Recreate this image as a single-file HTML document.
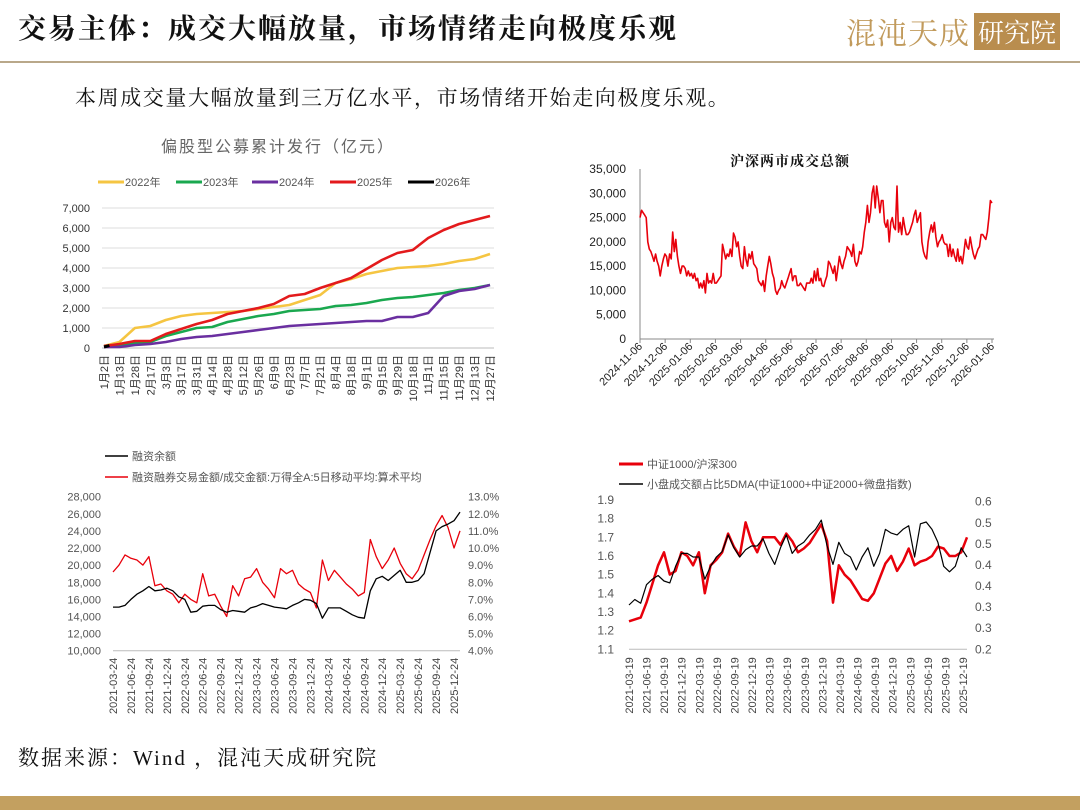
<!DOCTYPE html>
<html><head><meta charset="utf-8">
<style>
body{margin:0;width:1080px;height:810px;overflow:hidden;background:#fff;position:relative;font-family:"Liberation Serif","Noto Serif CJK SC",serif}
.abs{position:absolute}
</style></head>
<body>
<div class="abs" style="left:18px;top:7px;font-size:28px;letter-spacing:2px;font-weight:bold;color:#111;font-family:'Liberation Serif','Noto Serif CJK SC',serif">交易主体：成交大幅放量，市场情绪走向极度乐观</div>
<div class="abs" style="left:846px;top:12px;height:38px;display:flex;align-items:center">
 <span style="font-size:30px;color:#c19a5b;letter-spacing:1px;font-family:'Noto Serif CJK SC',serif">混沌天成</span>
 <span style="margin-left:4px;background:#b98d4e;color:#fff;font-size:26px;padding:0 4px;font-family:'Noto Serif CJK SC',serif">研究院</span>
</div>
<div class="abs" style="left:0;top:61px;width:1080px;height:2px;background:#b9a88a"></div>
<div class="abs" style="left:75px;top:82px;font-size:21px;letter-spacing:1.6px;color:#111">本周成交量大幅放量到三万亿水平，市场情绪开始走向极度乐观。</div>
<div class="abs" style="left:18px;top:742px;font-size:21px;letter-spacing:2px;color:#111">数据来源：Wind ，混沌天成研究院</div>
<div class="abs" style="left:0;top:796px;width:1080px;height:14px;background:#c3a060"></div>

<svg id="svg" class="abs" style="left:0;top:0" width="1080" height="810" font-family="Liberation Sans, Noto Sans CJK SC, sans-serif"></svg>

<script>
// ---------- Chart 1 data ----------
const c1Cats=["1月2日","1月13日","1月28日","2月17日","3月3日","3月17日","3月31日","4月14日","4月28日","5月12日","5月26日","6月9日","6月23日","7月7日","7月21日","8月4日","8月18日","9月1日","9月15日","9月29日","10月18日","11月1日","11月15日","11月29日","12月13日","12月27日"];
const c1Ticks=[0,1000,2000,3000,4000,5000,6000,7000];
const c1Names=["2022年","2023年","2024年","2025年","2026年"];
const c1Colors=["#f5c542","#1aa84f","#6a2fa0","#e31a1c","#000000"];
const s2022=[100,300,1000,1100,1400,1600,1700,1750,1800,1850,1950,2050,2150,2400,2650,3250,3450,3700,3850,4000,4050,4100,4200,4350,4450,4700];
const s2023=[100,100,250,300,600,800,1000,1050,1300,1450,1600,1700,1850,1900,1950,2100,2150,2250,2400,2500,2550,2650,2750,2900,3000,3150];
const s2024=[50,50,150,200,300,450,550,600,700,800,900,1000,1100,1150,1200,1250,1300,1350,1350,1550,1550,1750,2600,2850,2950,3150];
const s2025=[100,200,350,350,700,950,1200,1400,1700,1850,2000,2200,2600,2700,3000,3250,3500,3950,4400,4750,4900,5500,5900,6200,6400,6600];
const s2026=[50,120];
// ---------- Chart 2 data ----------
const c2Ticks=[0,5000,10000,15000,20000,25000,30000,35000];
const c2Dates=["2024-11-06","2024-12-06","2025-01-06","2025-02-06","2025-03-06","2025-04-06","2025-05-06","2025-06-06","2025-07-06","2025-08-06","2025-09-06","2025-10-06","2025-11-06","2025-12-06","2026-01-06"];
const c2Vals=[25,26.5,26,25.5,25,20,18.5,18,17,16,17.5,16,15,13,15,16.5,17.5,17,15,17.5,16.5,22,18,20.5,17,15,13.5,15,15,14.5,13,14,13,13.5,12.5,13.5,12,12.5,10.5,11.5,10.5,12,9.5,13.5,11.5,12,11.5,13.5,11.5,11.5,12,12.5,13,19.5,18,16.5,17.5,17,18.5,17,21.8,21,19,20,17,15,14.5,19,16.5,15,17.5,16.5,18,15.5,15,14.5,12,11.5,11,12,9.8,13,15,17,15.5,13.5,12.5,10,9.2,10,10.5,12,11,10.5,11.5,12.5,13.5,14.5,12,13,13,11,11,11.5,11,10.5,10,11.5,11.5,11.5,12.5,11.5,14,12,14.5,12,12.5,11,10.8,12,13,16,15.5,14.5,13.5,15,12,14.5,17,15.5,14.5,16,17,19,18.5,18,17,19.5,16,15,16,18,17.5,19,22,24,27.5,24,26,30,31.5,27,31.5,29,26,28.5,28.5,24,23,24.5,20,24,25,23,22.5,31.5,22,24,21.5,25,23,21.5,21.5,22,23,24,25.5,26.5,24,25,26,20,18,17,16.5,20,22,23.5,22,24,21,19,20,20.5,21.5,20,19.5,19.5,17,19.5,17,18.5,17,16,18.5,16,17,15.5,18,20.5,19,18.5,21,19,17.5,16.5,17.5,18.5,19,21.5,21.5,21,20.5,22,25,28.5,28];
// ---------- Chart 3 data ----------
const c3Dates=["2021-03-24","2021-06-24","2021-09-24","2021-12-24","2022-03-24","2022-06-24","2022-09-24","2022-12-24","2023-03-24","2023-06-24","2023-09-24","2023-12-24","2024-03-24","2024-06-24","2024-09-24","2024-12-24","2025-03-24","2025-06-24","2025-09-24","2025-12-24"];
const c3LTicks=[10000,12000,14000,16000,18000,20000,22000,24000,26000,28000];
const c3RTicks=[4,5,6,7,8,9,10,11,12,13];
const c3Margin=[15100,15100,15300,16000,16600,17000,17500,17000,17100,17300,17000,16300,16000,14500,14600,15200,15300,15300,14800,14500,14700,14600,14500,15000,15200,15500,15300,15100,15000,14900,15300,15600,16000,15900,15500,13800,15000,15000,15000,14600,14200,13900,13800,17000,18400,18700,18200,18800,19400,18000,18000,18200,19000,21500,24000,24500,24800,25200,26200];
const c3Ratio=[8.6,9.0,9.6,9.4,9.3,9.0,9.5,7.8,7.9,7.5,7.3,6.8,7.3,7.0,6.8,8.5,7.2,7.3,6.6,6.0,7.8,7.2,8.2,8.3,8.8,8.0,7.6,7.1,8.8,8.5,8.7,7.9,7.6,7.4,6.5,9.3,8.1,8.7,8.3,7.9,7.6,7.2,7.4,10.5,9.5,8.8,9.3,10.0,9.1,8.5,8.2,8.7,9.6,10.5,11.3,11.9,11.2,10.0,11.0];
// ---------- Chart 4 data ----------
const c4Dates=["2021-03-19","2021-06-19","2021-09-19","2021-12-19","2022-03-19","2022-06-19","2022-09-19","2022-12-19","2023-03-19","2023-06-19","2023-09-19","2023-12-19","2024-03-19","2024-06-19","2024-09-19","2024-12-19","2025-03-19","2025-06-19","2025-09-19","2025-12-19"];
const c4LTicks=["1.1","1.2","1.3","1.4","1.5","1.6","1.7","1.8","1.9"];
const c4RTicks=["0.2","0.3","0.3","0.4","0.4","0.5","0.5","0.6"];
const c4Ratio=[1.25,1.26,1.27,1.35,1.45,1.55,1.62,1.5,1.52,1.62,1.6,1.55,1.62,1.4,1.55,1.58,1.62,1.72,1.65,1.6,1.78,1.68,1.62,1.7,1.7,1.7,1.66,1.72,1.68,1.62,1.64,1.67,1.72,1.77,1.68,1.35,1.55,1.5,1.47,1.42,1.37,1.36,1.4,1.48,1.56,1.6,1.52,1.57,1.64,1.55,1.57,1.58,1.6,1.65,1.64,1.6,1.6,1.62,1.7];
const c4Small=[0.32,0.335,0.325,0.375,0.39,0.4,0.385,0.38,0.425,0.46,0.46,0.45,0.45,0.39,0.425,0.45,0.465,0.51,0.475,0.45,0.47,0.48,0.48,0.5,0.46,0.43,0.475,0.51,0.46,0.48,0.49,0.51,0.525,0.55,0.48,0.43,0.49,0.46,0.45,0.415,0.45,0.475,0.425,0.46,0.525,0.515,0.51,0.525,0.535,0.45,0.54,0.545,0.525,0.49,0.425,0.41,0.425,0.475,0.45];

const NS="http://www.w3.org/2000/svg";
const svg=document.getElementById('svg');
function el(tag,attrs,parent){const e=document.createElementNS(NS,tag);for(const k in attrs)e.setAttribute(k,attrs[k]);(parent||svg).appendChild(e);return e;}
function txt(s,attrs,parent){const e=el('text',attrs,parent);e.textContent=s;return e;}
function line(vals,xf,yf,color,w,name){
  const pts=vals.map((v,i)=>xf(i).toFixed(1)+","+yf(v).toFixed(1)).join(" ");
  const p=el('polyline',{points:pts,fill:'none',stroke:color,'stroke-width':w,'stroke-linejoin':'round'});
  
  
  return p;
}

// ===== Chart 1 =====
{
 const g=el('g',{});
 
 
 const X0=104,X1=490,Y0=348,Y1=208,max=7000;
 const xs=i=>X0+(X1-X0)*i/(c1Cats.length-1);
 const ys=v=>Y0-(Y0-Y1)*v/max;
 const t=txt("偏股型公募累计发行（亿元）",{x:278,y:152,'font-size':16,'text-anchor':'middle',fill:'#666','letter-spacing':2},g);
 
 c1Ticks.forEach(v=>{
  if(v>0){const gl=el('line',{x1:X0-2,x2:X1+4,y1:ys(v),y2:ys(v),stroke:'#ddd','stroke-width':1},g);}
  const l=txt(v.toLocaleString('en-US'),{x:90,y:ys(v)+4,'font-size':11,'text-anchor':'end',fill:'#333'},g);
  
 });
 el('line',{x1:X0-2,x2:X1+4,y1:Y0,y2:Y0,stroke:'#bbb'},g);
 c1Cats.forEach((c,i)=>{
  const l=txt(c,{transform:`translate(${xs(i)+4},355) rotate(-90)`,'font-size':11,'text-anchor':'end',fill:'#333'},g);
  
 });
 const lx=[98,176,252,330,408];
 c1Names.forEach((n,i)=>{
  const lg=el('g',{},g);
  
  el('line',{x1:lx[i],x2:lx[i]+26,y1:182,y2:182,stroke:c1Colors[i],'stroke-width':3},lg);
  txt(n,{x:lx[i]+27,y:186,'font-size':11,fill:'#555'},lg);
 });
 [s2022,s2023,s2024,s2025].forEach((s,i)=>g.appendChild(line(s,xs,ys,c1Colors[i],2.6,'series-'+c1Names[i])));
 g.appendChild(line(s2026,i=>xs(i*0.35),ys,'#000',3,'series-2026'));
}

// ===== Chart 2 =====
{
 const g=el('g',{});
 
 
 const X0=640,X1=992,Y0=339,Y1=169,max=35000;
 const n=c2Vals.length;
 const xs=i=>X0+(X1-X0)*i/(n-1);
 const xd=i=>X0+(X1-X0)*i/(c2Dates.length-1);
 const ys=v=>Y0-(Y0-Y1)*v/max;
 const t=txt("沪深两市成交总额",{x:790,y:166,'font-size':14,'font-weight':'bold','text-anchor':'middle',fill:'#111','font-family':'Noto Serif CJK SC, serif','letter-spacing':1},g);
 
 c2Ticks.forEach(v=>{
  const l=txt(v.toLocaleString('en-US'),{x:626,y:ys(v)+4,'font-size':12,'text-anchor':'end',fill:'#222'},g);
  
 });
 el('line',{x1:X0,x2:X0,y1:Y1,y2:Y0,stroke:'#888'},g);
 el('line',{x1:X0,x2:X1+2,y1:Y0,y2:Y0,stroke:'#888'},g);
 c2Dates.forEach((d,i)=>{
  el('line',{x1:xd(i),x2:xd(i),y1:Y0,y2:Y0+4,stroke:'#888'},g);
  const l=txt(d,{transform:`translate(${xd(i)+3},${Y0+8}) rotate(-45)`,'font-size':11,'text-anchor':'end',fill:'#222'},g);
  
 });
 g.appendChild(line(c2Vals.map(v=>v*1000),xs,ys,'#e8000b',1.6,'turnover-line'));
}

// ===== Chart 3 =====
{
 const g=el('g',{});
 
 
 const X0=113,X1=460,Y0=650.7,Y1=496.7;
 const n=c3Margin.length;
 const xs=i=>X0+(X1-X0)*i/(n-1);
 const xd=i=>X0+(X1-X0-6)*i/(c3Dates.length-1);
 const yl=v=>Y0-(Y0-Y1)*(v-10000)/18000;
 const yr=v=>Y0-(Y0-Y1)*(v-4)/9;
 const l1=el('g',{},g);
 el('line',{x1:105,x2:128,y1:456,y2:456,stroke:'#000','stroke-width':1.5},l1);
 txt("融资余额",{x:132,y:460,'font-size':11,fill:'#555'},l1);
 const l2=el('g',{},g);
 el('line',{x1:105,x2:128,y1:477,y2:477,stroke:'#e8000b','stroke-width':1.5},l2);
 txt("融资融券交易金额/成交金额:万得全A:5日移动平均:算术平均",{x:132,y:481,'font-size':11,fill:'#555'},l2);
 c3LTicks.forEach(v=>{
  const l=txt(v.toLocaleString('en-US'),{x:101,y:yl(v)+4,'font-size':11,'text-anchor':'end',fill:'#555'},g);
  
 });
 c3RTicks.forEach(v=>{
  const l=txt(v.toFixed(1)+"%",{x:468,y:yr(v)+4,'font-size':11,fill:'#555'},g);
  
 });
 el('line',{x1:X0,x2:X1,y1:Y0,y2:Y0,stroke:'#bbb'},g);
 c3Dates.forEach((d,i)=>{
  const l=txt(d,{transform:`translate(${xd(i)+4},${Y0+7}) rotate(-90)`,'font-size':11,'text-anchor':'end',fill:'#444'},g);
  
 });
 g.appendChild(line(c3Ratio,xs,yr,'#e8000b',1.3,'ratio-line'));
 g.appendChild(line(c3Margin,xs,yl,'#000',1.3,'margin-balance-line'));
}

// ===== Chart 4 =====
{
 const g=el('g',{});
 
 
 const X0=629,X1=967,Y0=649.3,Y1=500;
 const n=c4Ratio.length;
 const xs=i=>X0+(X1-X0)*i/(n-1);
 const xd=i=>X0+(X1-X0-4)*i/(c4Dates.length-1);
 const yl=v=>Y0-(Y0-Y1)*(v-1.1)/0.8;
 const yr=v=>Y0-(Y0-501.7)*(v-0.2)/0.4;
 const l1=el('g',{},g);
 el('line',{x1:619,x2:643,y1:464,y2:464,stroke:'#e8000b','stroke-width':3},l1);
 txt("中证1000/沪深300",{x:647,y:468,'font-size':11,fill:'#555'},l1);
 const l2=el('g',{},g);
 el('line',{x1:619,x2:643,y1:484,y2:484,stroke:'#000','stroke-width':1.5},l2);
 txt("小盘成交额占比5DMA(中证1000+中证2000+微盘指数)",{x:647,y:488,'font-size':11,fill:'#555'},l2);
 c4LTicks.forEach((v,i)=>{
  const l=txt(v,{x:614,y:yl(+v)+4,'font-size':12,'text-anchor':'end',fill:'#555'},g);
  
 });
 c4RTicks.forEach((v,i)=>{
  const yy=Y0-(Y0-501.7)*i/(c4RTicks.length-1);
 const l=txt(v,{x:975,y:yy+4,'font-size':12,fill:'#555'},g);
  
 });
 el('line',{x1:X0,x2:X1,y1:Y0,y2:Y0,stroke:'#bbb'},g);
 c4Dates.forEach((d,i)=>{
  const l=txt(d,{transform:`translate(${xd(i)+4},${Y0+8}) rotate(-90)`,'font-size':11,'text-anchor':'end',fill:'#444'},g);
  
 });
 g.appendChild(line(c4Ratio,xs,yl,'#e8000b',2.5,'csi1000-hs300-line'));
 g.appendChild(line(c4Small,xs,yr,'#000',1.2,'small-cap-share-line'));
}
</script>
</body></html>
